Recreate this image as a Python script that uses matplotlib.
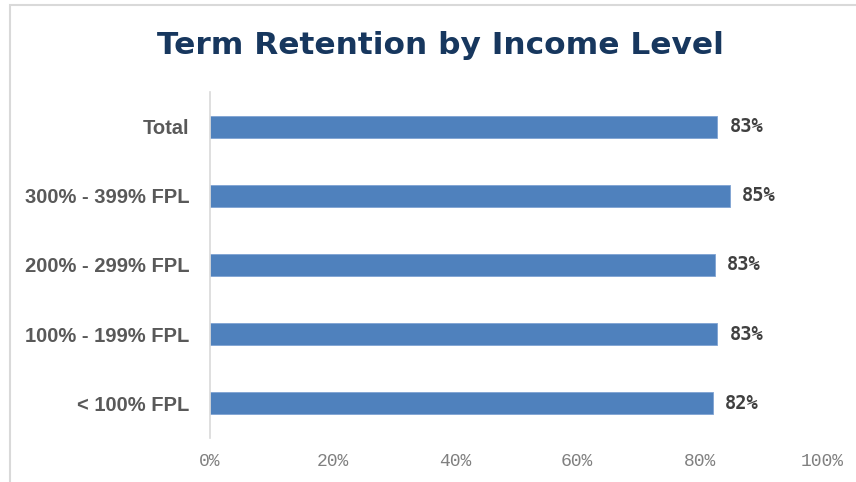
import matplotlib
matplotlib.use("Agg")
import matplotlib.pyplot as plt
from matplotlib.patches import Rectangle

categories = ["< 100% FPL", "100% - 199% FPL", "200% - 299% FPL", "300% - 399% FPL", "Total"]
retention = [0.822, 0.829, 0.825, 0.849, 0.829]
value_labels = ["82%", "83%", "83%", "85%", "83%"]
x_ticks = [0, 0.2, 0.4, 0.6, 0.8, 1.0]
x_tick_labels = ["0%", "20%", "40%", "60%", "80%", "100%"]

fig = plt.figure(figsize=(8.56, 4.82), dpi=100)
ax = fig.add_axes([210 / 856, 44 / 482, 612 / 856, 346 / 482])

ypos = list(range(len(categories)))
ax.barh(ypos, retention, height=0.32, color="#4F81BD", edgecolor="#7FA3D3", linewidth=0.6)

for y, v, lab in zip(ypos, retention, value_labels):
    ax.text(v + 0.02, y, lab, va="center", ha="left", fontsize=13.5, fontweight="bold",
            color="#404040", family=["DejaVu Sans Mono"])

ax.set_xlim(0, 1.0)
ax.set_ylim(-0.5, 4.5)
ax.set_yticks(ypos)
ax.set_yticklabels(categories, fontsize=14.5, fontweight="bold", color="#595959",
                   family=["Liberation Sans Narrow", "Liberation Sans", "DejaVu Sans"])
ax.set_xticks(x_ticks)
ax.set_xticklabels(x_tick_labels, fontsize=13, color="#808080", family=["Liberation Mono"])
ax.tick_params(axis="both", length=0)
ax.tick_params(axis="y", pad=15)
ax.tick_params(axis="x", pad=11)

for s in ["top", "right", "bottom"]:
    ax.spines[s].set_visible(False)
ax.spines["left"].set_color("#D9D9D9")
ax.spines["left"].set_linewidth(1.2)

fig.text(440 / 856, 1 - 45 / 482, "Term Retention by Income Level", ha="center", va="center",
         fontsize=22.5, fontweight="heavy", color="#17375E")

# chart area border
fig.patches.append(Rectangle((10 / 856, -0.1), 1.2, 1 - 5 / 482 + 0.1, transform=fig.transFigure,
                             fill=False, edgecolor="#D9D9D9", linewidth=1.5))

fig.savefig("out.png", dpi=100)
